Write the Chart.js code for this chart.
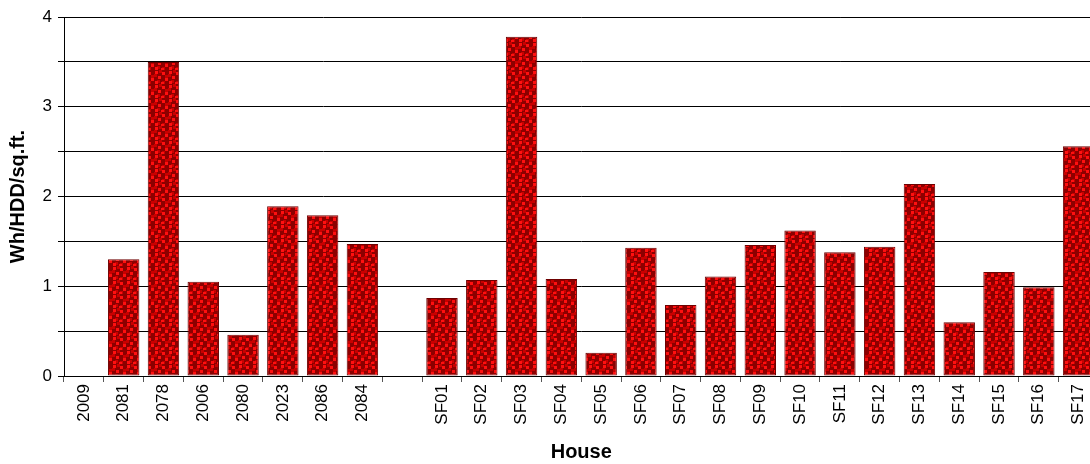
<!DOCTYPE html>
<html>
<head>
<meta charset="utf-8">
<script src="https://cdn.jsdelivr.net/npm/chart.js@4/dist/chart.umd.min.js"></script>
<style>
  html, body { margin: 0; padding: 0; background: #fff; overflow: hidden; }
  #wrap { width: 1101px; height: 464px; position: relative; }
</style>
</head>
<body>
<div id="wrap"><canvas id="chart1"></canvas></div>
<script>
const HOUSES = ['2009', '2081', '2078', '2006', '2080', '2023', '2086', '2084', '',
    'SF01', 'SF02', 'SF03', 'SF04', 'SF05', 'SF06', 'SF07', 'SF08', 'SF09',
    'SF10', 'SF11', 'SF12', 'SF13', 'SF14', 'SF15', 'SF16', 'SF17'];
const WH_PER_HDD = [null, 1.3, 3.5, 1.05, 0.46, 1.89, 1.79, 1.47, null,
    0.87, 1.07, 3.78, 1.08, 0.26, 1.43, 0.79, 1.11, 1.46,
    1.62, 1.38, 1.44, 2.14, 0.6, 1.16, 0.99, 2.56];
const Y_MIN = 0;
const Y_MAX = 4;
const Y_STEP = 0.5;

// dotted red fill like the original spreadsheet pattern
const makePattern = () => {
    const c = document.createElement('canvas');
    c.width = 14;
    c.height = 14;
    const g = c.getContext('2d');
    g.fillStyle = '#8c0000';
    g.fillRect(0, 0, 14, 14);
    g.fillStyle = '#c80000';
    [[0, 4], [5, 0], [11, 5], [8, 11], [3, 10]].forEach(([x, y]) => g.fillRect(x, y, 3, 3));
    g.fillStyle = '#ff1010';
    [[1, 1], [8, 2], [4, 6], [11, 8], [1, 11], [7, 12]].forEach(([x, y]) => g.fillRect(x, y, 3, 3));
    return g.createPattern(c, 'repeat');
};

Chart.defaults.font.family = '"Liberation Sans", Arial, sans-serif';
Chart.defaults.color = '#000';

new Chart(
    document.getElementById('chart1'),
    {
        type: 'bar',
        data: {
            labels: HOUSES,
            datasets: [
                {
                    data: WH_PER_HDD,
                    backgroundColor: makePattern(),
                    borderColor: '#6e0000',
                    borderWidth: 1,
                    borderSkipped: false,
                    barPercentage: 0.79,
                    categoryPercentage: 1,
                },
            ]
        },
        options: {
            responsive: true,
            maintainAspectRatio: false,
            animation: false,
            layout: {padding: {top: 17, right: 0, bottom: 0, left: 0}},
            scales: {
                x: {
                    offset: true,
                    afterFit: s => { s.height = 88; },
                    border: {color: '#000', width: 1},
                    grid: {
                        offset: true,
                        drawOnChartArea: false,
                        drawTicks: true,
                        tickLength: 6,
                        color: '#555',
                    },
                    ticks: {
                        minRotation: 90,
                        maxRotation: 90,
                        autoSkip: false,
                        padding: 2,
                        font: {size: 17},
                    },
                    title: {
                        display: true,
                        text: 'House',
                        font: {size: 20, weight: 'bold'},
                        padding: {top: 0, bottom: 0},
                    },
                },
                y: {
                    min: Y_MIN,
                    max: Y_MAX,
                    afterFit: s => { s.width = 64; },
                    border: {color: '#000', width: 1},
                    grid: {
                        color: '#000',
                        tickLength: 6,
                    },
                    ticks: {
                        stepSize: Y_STEP,
                        padding: 6,
                        font: {size: 17},
                        callback: v => Number.isInteger(v) ? v : '',
                    },
                    title: {
                        display: true,
                        text: 'Wh/HDD/sq.ft.',
                        font: {size: 20, weight: 'bold'},
                        padding: {top: 6, bottom: 0},
                    },
                },
            },
            plugins: {
                legend: {display: false},
                tooltip: {enabled: false},
            }
        }
    }
);
</script>
</body>
</html>
